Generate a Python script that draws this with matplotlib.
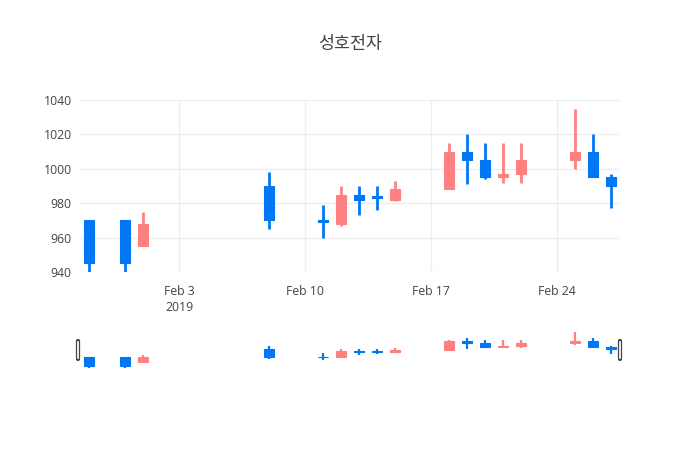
import datetime as dt
import matplotlib
matplotlib.use("Agg")
import matplotlib.pyplot as plt
from matplotlib.patches import FancyBboxPatch

plt.rcParams['font.family'] = ['Open Sans', 'Noto Sans CJK KR', 'DejaVu Sans']

# 데이터
dates = ["2019-01-29", "2019-01-31", "2019-02-01", "2019-02-08", "2019-02-11",
         "2019-02-12", "2019-02-13", "2019-02-14", "2019-02-15", "2019-02-18",
         "2019-02-19", "2019-02-20", "2019-02-21", "2019-02-22", "2019-02-25",
         "2019-02-26", "2019-02-27"]
opens = [970, 970, 955, 990, 970, 968, 985, 984, 982, 988, 1010, 1005, 995, 997, 1005, 1010, 995]
highs = [970, 970, 975, 998, 979, 990, 990, 990, 993, 1015, 1020, 1015, 1015, 1015, 1035, 1020, 997]
lows = [940, 940, 955, 965, 960, 967, 973, 976, 981, 988, 991, 994, 992, 992, 1000, 995, 977]
closes = [945, 945, 968, 970, 969, 985, 982, 983, 988, 1010, 1005, 995, 997, 1005, 1010, 995, 990]

tick_dates = ["2019-02-03", "2019-02-10", "2019-02-17", "2019-02-24"]
tick_labels = ["Feb 3\n2019", "Feb 10", "Feb 17", "Feb 24"]
y_ticks = [940, 960, 980, 1000, 1020, 1040]

title = "성호전자"

inc_color = "#ff8080"
dec_color = "#0277f5"
text_color = "#444444"

x = [dt.datetime.strptime(d, "%Y-%m-%d") for d in dates]
colors = [inc_color if c >= o else dec_color for o, c in zip(opens, closes)]
bottoms = [min(o, c) for o, c in zip(opens, closes)]
heights = [max(abs(c - o), 0.9) for o, c in zip(opens, closes)]

x0 = dt.datetime(2019, 1, 28, 12)
x1 = dt.datetime(2019, 2, 27, 12)

W, H = 700, 450
fig = plt.figure(figsize=(7, 4.5), dpi=100)

def draw(ax, lw):
    ax.vlines(x, lows, highs, colors=colors, linewidth=lw, zorder=2)
    ax.bar(x, heights, width=0.6, bottom=bottoms, color=colors,
           edgecolor=colors, linewidth=0.8, zorder=3)

# 메인 차트
ax = fig.add_axes([80 / W, (H - 272) / H, 540 / W, 172 / H])
draw(ax, 2)
ax.set_xlim(x0, x1)
ax.set_ylim(940, 1040)
ax.set_yticks(y_ticks)
ax.set_xticks([dt.datetime.strptime(d, "%Y-%m-%d") for d in tick_dates])
ax.set_xticklabels(tick_labels)
ax.grid(True, color="#eeeeee", linewidth=1, zorder=0)
ax.set_axisbelow(True)
for s in ax.spines.values():
    s.set_visible(False)
ax.tick_params(axis="y", length=0, labelsize=8.8, colors=text_color, pad=6)
ax.tick_params(axis="x", length=0, labelsize=8.8, colors=text_color, pad=9.5)
for lab in ax.get_xticklabels():
    lab.set_linespacing(1.3)
    lab.set_verticalalignment("top")

# 레인지 슬라이더
sl = fig.add_axes([80 / W, (H - 370) / H, 540 / W, 40.5 / H])
draw(sl, 1.6)
sl.set_xlim(x0, x1)
sl.set_ylim(934.6, 1041.7)
sl.set_xticks([])
sl.set_yticks([])
for s in sl.spines.values():
    s.set_visible(False)

for hx in (78, 620):
    fig.patches.append(FancyBboxPatch(((hx - 1.5) / W, (H - 360) / H), 3 / W, 20 / H,
                                      boxstyle="round,pad=0,rounding_size=0.004",
                                      transform=fig.transFigure, facecolor="white",
                                      edgecolor="#444444", linewidth=0.9))

fig.text(350 / W, (H - 44) / H, title, ha="center", va="center", fontsize=12.5,
         color=text_color, family=['Noto Sans CJK KR', 'DejaVu Sans'])

fig.savefig("out.png", dpi=100, facecolor="white")
